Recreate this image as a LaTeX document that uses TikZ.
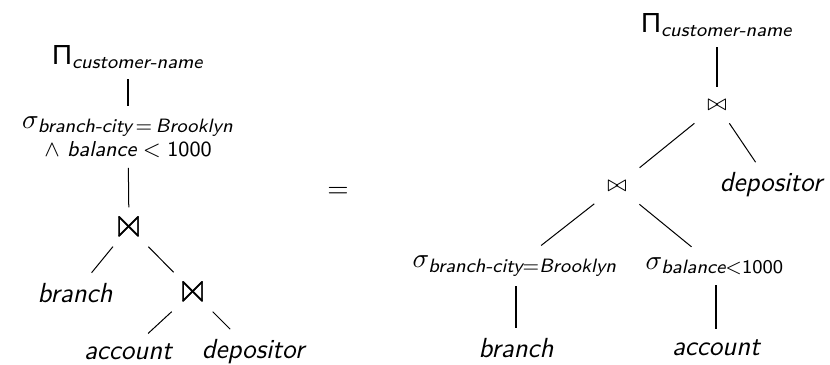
\documentclass[tikz,border=0pt]{standalone}
\usepackage{amsmath}
\usepackage{amssymb}
\usepackage{fontspec}
\newfontfamily\grksans{Liberation Sans}
\usetikzlibrary{positioning}
\newcommand{\attr}[1]{\text{\sffamily\itshape #1}}
\newcommand{\num}[1]{\text{\sffamily #1}}
\newcommand{\proj}{\text{\grksans Π}}

\begin{document}
\begin{tikzpicture}[x=0.014cm, y=-0.014cm,
    op/.style={font=\fontsize{11}{13}\selectfont\sffamily, inner sep=4pt, align=center},
    bigjoin/.style={op, font=\fontsize{17}{19}\selectfont, inner sep=2pt},
    smalljoin/.style={op, font=\fontsize{9}{11}\selectfont, inner sep=5pt},
    rel/.style={op, font=\fontsize{11}{13}\selectfont\sffamily\itshape},
    link/.style={line width=0.4pt}
]
    \useasboundingbox (0,0) rectangle (830,364);

    % Left tree (selection above the joins)
    \node[op] (proj1) at (128,57) {$\proj_{\attr{customer-name}}$};
    \node[op] (sel1) at (128,137) {$\sigma_{\attr{branch-city} \,=\, \attr{Brooklyn}}$\\[-2pt]
        {\fontsize{8.6}{10}\selectfont$\wedge\ \attr{balance} < \num{1000}$}};
    \node[bigjoin] (join1) at (129,227) {$\Join$};
    \node[rel] (branch1) at (75,293) {branch};
    \node[bigjoin] (join2) at (193,292) {$\Join$};
    \node[rel] (account1) at (128,352) {account};
    \node[rel] (depositor1) at (253,352) {depositor};

    \draw[link] (proj1) -- (sel1);
    \draw[link] (sel1) -- (join1);
    \draw[link] (join1) -- (branch1);
    \draw[link] (join1) -- (join2);
    \draw[link] (join2) -- (account1);
    \draw[link] (join2) -- (depositor1);

    \node[op] (eq) at (338,192) {$=$};

    % Right tree (selections pushed down)
    \node[op] (proj2) at (717,25) {$\proj_{\attr{customer-name}}$};
    \node[smalljoin] (join3) at (717,105) {$\bowtie$};
    \node[smalljoin] (join4) at (617,186) {$\bowtie$};
    \node[rel] (depositor2) at (771,185) {depositor};
    \node[op] (sel2) at (515,266) {$\sigma_{\attr{branch-city}=\attr{Brooklyn}}$};
    \node[op] (sel3) at (715,266) {$\sigma_{\attr{balance}<\num{1000}}$};
    \node[rel] (branch2) at (516,348) {branch};
    \node[rel] (account2) at (716,348) {account};

    \draw[link] (proj2) -- (join3);
    \draw[link] (join3) -- (join4);
    \draw[link] (join3) -- (depositor2);
    \draw[link] (join4) -- (sel2);
    \draw[link] (join4) -- (sel3);
    \draw[link] (sel2.south -| branch2) -- (branch2);
    \draw[link] (sel3.south -| account2) -- (account2);
\end{tikzpicture}
\end{document}
